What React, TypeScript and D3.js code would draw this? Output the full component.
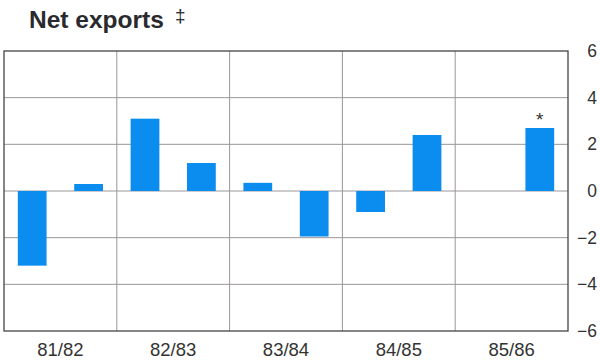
import React from "react";
import * as d3 from "d3";

const years = ["81/82", "82/83", "83/84", "84/85", "85/86"];
const halves = ["81/82 H1", "81/82 H2", "82/83 H1", "82/83 H2", "83/84 H1", "83/84 H2", "84/85 H1", "84/85 H2", "85/86 H1", "85/86 H2"];
const values: (number | null)[] = [-3.2, 0.3, 3.1, 1.2, 0.35, -1.95, -0.9, 2.4, null, 2.7];
const yTicks = [6, 4, 2, 0, -2, -4, -6];
const flagged = ["85/86 H2"];

const W = 600, H = 362;
const left = 4, right = 568, top = 51, bottom = 331;

export default function App() {
  const x = d3.scaleBand<string>().domain(halves).range([left, right]).paddingInner(0.49).paddingOuter(0.245);
  const xg = d3.scaleBand<string>().domain(years).range([left, right]);
  const y = d3.scaleLinear().domain([-6, 6]).range([bottom, top]);
  const font = "'Liberation Sans', Arial, Helvetica, sans-serif";
  return (
    <svg width={W} height={H} style={{ position: "absolute", left: 0, top: 0, background: "#fff" }}>
      <text x={29} y={28} fontFamily={font} fontWeight="bold" fontSize={24.5} fill="#2a2a2e">Net exports</text>
      <text x={175} y={22} fontFamily={font} fontSize={19} fill="#2a2a2e">‡</text>
      {yTicks.filter(t => t !== 6 && t !== -6).map(t => (
        <line key={"g" + t} x1={left} x2={right} y1={y(t)} y2={y(t)} stroke="#9a969a" strokeWidth={1} />
      ))}
      {years.slice(1).map(yr => (
        <line key={"v" + yr} x1={xg(yr)!} x2={xg(yr)!} y1={top} y2={bottom} stroke="#9a969a" strokeWidth={1} />
      ))}
      {halves.map((h, i) => {
        const v = values[i];
        if (v === null) return null;
        const y0 = y(0), y1 = y(v);
        return <rect key={h} x={x(h)!} width={x.bandwidth()} y={Math.min(y0, y1)} height={Math.abs(y1 - y0)} fill="#0b8cef" />;
      })}
      {flagged.map(h => {
        const v = values[halves.indexOf(h)] as number;
        return <text key={"f" + h} x={x(h)! + x.bandwidth() / 2} y={y(v) - 2} textAnchor="middle" fontFamily={font} fontSize={19} fill="#333">*</text>;
      })}
      <rect x={left} y={top} width={right - left} height={bottom - top} fill="none" stroke="#444" strokeWidth={1.3} />
      {yTicks.map(t => (
        <text key={"t" + t} x={597} y={y(t) + 6} textAnchor="end" fontFamily={font} fontSize={17.5} fill="#333">
          {t < 0 ? "\u2212" + Math.abs(t) : String(t)}
        </text>
      ))}
      {years.map(yr => (
        <text key={"l" + yr} x={xg(yr)! + xg.bandwidth() / 2} y={356} textAnchor="middle" fontFamily={font} fontSize={18.5} fill="#333">{yr}</text>
      ))}
    </svg>
  );
}
